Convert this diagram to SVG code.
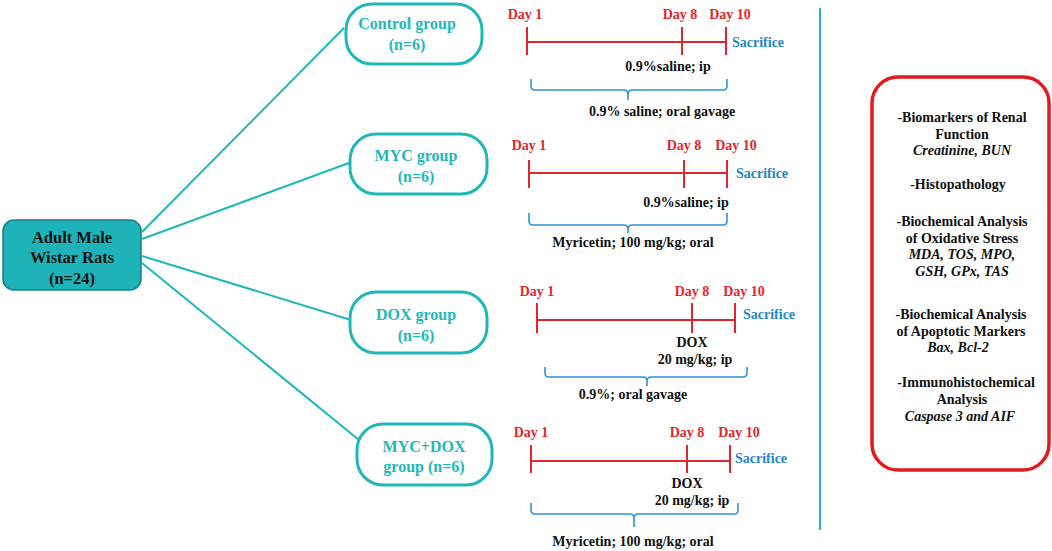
<svg xmlns="http://www.w3.org/2000/svg" width="1052" height="551" viewBox="0 0 1052 551" font-family="'Liberation Serif', 'DejaVu Serif', serif">
<style>
text{font-family:'Liberation Serif','DejaVu Serif',serif;font-weight:bold}
.grp{fill:#fff;stroke:#1fb8b8;stroke-width:3}
.gt{fill:#1fb8b8;font-size:16px;text-anchor:middle}
.conn{stroke:#1fb8b8;stroke-width:2;fill:none}
.tl{stroke:#e3262d;stroke-width:2;fill:none}
.day{fill:#e3262d;font-size:14px;text-anchor:middle}
.sac{fill:#1f86c8;font-size:14px}
.lbl{fill:#111;font-size:14px;text-anchor:middle}
.br{stroke:#2f93d6;stroke-width:1.6;fill:none}
.rt{fill:#111;font-size:14px;text-anchor:middle}
.it{font-style:italic;font-weight:bold}
</style>
<rect width="1052" height="551" fill="#fff"/>
<g id="connectors">
<line class="conn" x1="142" y1="232" x2="344" y2="28"/>
<line class="conn" x1="142" y1="239" x2="349" y2="163"/>
<line class="conn" x1="142" y1="256" x2="351" y2="320"/>
<line class="conn" x1="142" y1="263" x2="359" y2="440"/>
</g>
<g id="root">
<rect x="3" y="220" width="138" height="70" rx="11" fill="#1eb3b8" stroke="#167f86" stroke-width="1.5"/>
<text x="72" y="243" font-size="16.5" text-anchor="middle" fill="#111">Adult Male</text>
<text x="72" y="263" font-size="16.5" text-anchor="middle" fill="#111">Wistar Rats</text>
<text x="72" y="284" font-size="16.5" text-anchor="middle" fill="#111">(n=24)</text>
</g>
<g id="control">
<rect class="grp" x="346" y="4" width="136" height="60" rx="26"/>
<text class="gt" x="407" y="29">Control group</text>
<text class="gt" x="407" y="50">(n=6)</text>
</g>
<g id="myc">
<rect class="grp" x="350" y="134" width="137" height="60" rx="26"/>
<text class="gt" x="416" y="161">MYC group</text>
<text class="gt" x="416" y="182">(n=6)</text>
</g>
<g id="dox">
<rect class="grp" x="350" y="292" width="137" height="61" rx="26"/>
<text class="gt" x="416" y="320">DOX group</text>
<text class="gt" x="416" y="341">(n=6)</text>
</g>
<g id="mycdox">
<rect class="grp" x="357" y="424" width="135" height="61" rx="26"/>
<text class="gt" x="424" y="452">MYC+DOX</text>
<text class="gt" x="424" y="472">group (n=6)</text>
</g>
<g id="timeline-control">
<path class="tl" d="M527 27V55M682 27V55M726 27V55M527 42H726"/>
<text class="day" x="525" y="19">Day 1</text>
<text class="day" x="680" y="19">Day 8</text>
<text class="day" x="730" y="19">Day 10</text>
<text class="sac" x="732" y="47">Sacrifice</text>
<text class="lbl" x="668" y="71">0.9%saline; ip</text>
<path class="br" d="M531 79V86Q531 90 535 90H624Q628 90 628 95V100V95Q628 90 632 90H723Q727 90 727 86V79"/>
<text class="lbl" x="662" y="116">0.9% saline; oral gavage</text>
</g>
<g id="timeline-myc">
<path class="tl" d="M529 160V188M684 160V188M727 160V188M529 173H727"/>
<text class="day" x="529" y="150">Day 1</text>
<text class="day" x="684" y="150">Day 8</text>
<text class="day" x="736" y="150">Day 10</text>
<text class="sac" x="736" y="178">Sacrifice</text>
<text class="lbl" x="686" y="207">0.9%saline; ip</text>
<path class="br" d="M529 213V221Q529 225 533 225H624Q628 225 628 229V233V229Q628 225 632 225H723Q727 225 727 221V213"/>
<text class="lbl" x="633" y="247">Myricetin; 100 mg/kg; oral</text>
</g>
<g id="timeline-dox">
<path class="tl" d="M537 303V333M692 303V333M735 303V333M537 320H735"/>
<text class="day" x="537" y="296">Day 1</text>
<text class="day" x="692" y="296">Day 8</text>
<text class="day" x="744" y="296">Day 10</text>
<text class="sac" x="743" y="319">Sacrifice</text>
<text class="lbl" x="692" y="347">DOX</text>
<text class="lbl" x="695" y="364">20 mg/kg; ip</text>
<path class="br" d="M545 367V373Q545 377 549 377H643Q647 377 647 381V386V381Q647 377 651 377H743Q747 377 747 373V367"/>
<text class="lbl" x="633" y="399">0.9%; oral gavage</text>
</g>
<g id="timeline-mycdox">
<path class="tl" d="M531 445V473M687 445V473M730 445V473M531 461H730"/>
<text class="day" x="531" y="437">Day 1</text>
<text class="day" x="687" y="437">Day 8</text>
<text class="day" x="739" y="437">Day 10</text>
<text class="sac" x="735" y="463">Sacrifice</text>
<text class="lbl" x="687" y="488">DOX</text>
<text class="lbl" x="692" y="505">20 mg/kg; ip</text>
<path class="br" d="M531 503V510Q531 514 535 514H630Q634 514 634 518V527V518Q634 514 638 514H734Q738 514 738 510V503"/>
<text class="lbl" x="633" y="546">Myricetin; 100 mg/kg; oral</text>
</g>
<line id="divider" x1="820" y1="8" x2="820" y2="530" stroke="#1fb8b8" stroke-width="2"/>
<g id="analyses">
<rect x="872" y="77" width="177" height="393" rx="26" fill="#fff" stroke="#e01b22" stroke-width="3.5"/>
<text class="rt" x="962" y="122">-Biomarkers of Renal</text>
<text class="rt" x="962" y="139">Function</text>
<text class="rt it" x="962" y="155">Creatinine, BUN</text>
<text class="rt" x="958" y="189">-Histopathology</text>
<text class="rt" x="962" y="226">-Biochemical Analysis</text>
<text class="rt" x="962" y="243">of Oxidative Stress</text>
<text class="rt it" x="962" y="259">MDA, TOS,  MPO,</text>
<text class="rt it" x="962" y="276">GSH, GPx, TAS</text>
<text class="rt" x="961" y="319">-Biochemical Analysis</text>
<text class="rt" x="961" y="336">of Apoptotic Markers</text>
<text class="rt it" x="958" y="352">Bax, Bcl-2</text>
<text class="rt" x="966" y="387">-Immunohistochemical</text>
<text class="rt" x="962" y="404">Analysis</text>
<text class="rt it" x="960" y="421">Caspase 3 and AIF</text>
</g>
</svg>
